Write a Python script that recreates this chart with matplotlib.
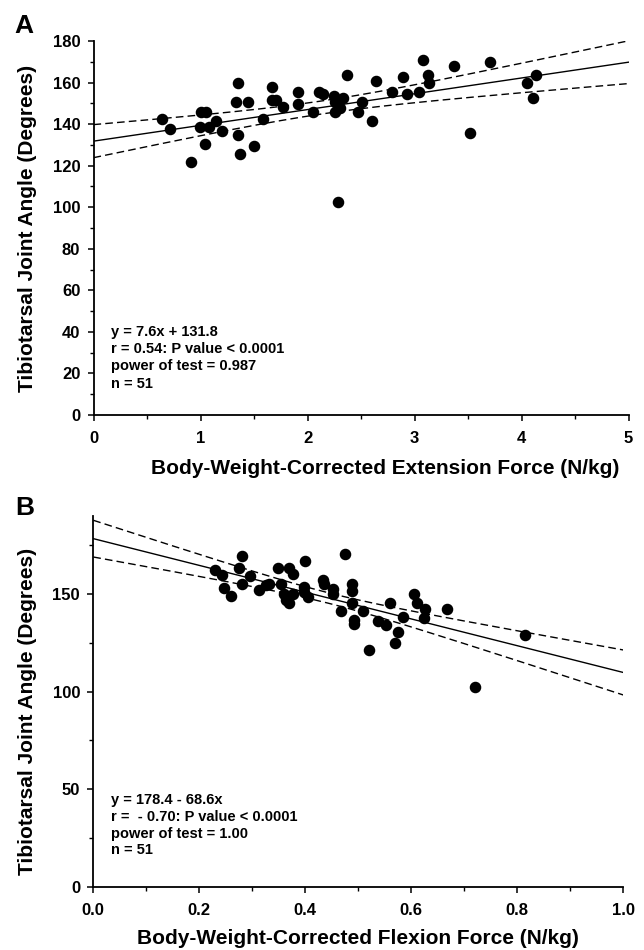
import numpy as np
import matplotlib
matplotlib.use("Agg")
import matplotlib.pyplot as plt
from matplotlib.ticker import MultipleLocator

plt.rcParams['font.family'] = ['Liberation Sans', 'DejaVu Sans']

# ---------------- data: panel A ----------------
ext_force = [0.640, 0.712, 0.911, 1.002, 1.049, 0.998, 1.042, 1.079, 1.142, 1.201,
             1.350, 1.335, 1.447, 1.348, 1.372, 1.497, 1.581, 1.665, 1.668, 1.703,
             1.774, 1.911, 1.911, 2.054, 2.107, 2.142, 2.250, 2.257, 2.335, 2.304,
             2.260, 2.369, 2.288, 2.509, 2.469, 2.603, 2.640, 2.793, 2.890, 2.927,
             3.042, 3.079, 3.123, 3.136, 3.366, 3.519, 3.706, 4.054, 4.138, 4.107]
angle_a = [142.4, 137.5, 121.6, 145.8, 145.8, 138.4, 130.6, 138.4, 141.6, 136.5,
           159.6, 150.5, 150.5, 134.6, 125.5, 129.6, 142.4, 157.7, 151.6, 151.6,
           148.4, 155.6, 149.5, 145.8, 155.6, 154.3, 153.7, 150.5, 152.4, 147.9,
           145.8, 163.6, 102.4, 150.5, 145.8, 141.6, 160.6, 155.6, 162.6, 154.6,
           155.6, 170.7, 163.6, 159.6, 168.0, 135.6, 169.7, 159.6, 163.6, 152.6]
slope_a, intercept_a = 7.6, 131.8
stats_a = ["y = 7.6x + 131.8", "r = 0.54: P value < 0.0001",
           "power of test = 0.987", "n = 51"]

# ---------------- data: panel B ----------------
flex_force = [0.230, 0.243, 0.246, 0.260, 0.281, 0.275, 0.281, 0.296, 0.312, 0.325,
              0.332, 0.349, 0.355, 0.360, 0.370, 0.377, 0.364, 0.369, 0.376, 0.400,
              0.398, 0.397, 0.405, 0.433, 0.435, 0.453, 0.453, 0.467, 0.474, 0.489,
              0.489, 0.488, 0.508, 0.491, 0.492, 0.520, 0.538, 0.552, 0.560, 0.605,
              0.611, 0.626, 0.624, 0.584, 0.575, 0.569, 0.667, 0.815, 0.720]
angle_b = [162.2, 159.6, 153.3, 149.2, 169.3, 163.2, 155.3, 159.4, 152.3, 154.5,
           155.3, 163.2, 155.3, 150.2, 163.5, 160.1, 146.8, 145.4, 150.2, 167.1,
           153.6, 150.9, 148.5, 157.0, 155.3, 152.6, 149.9, 141.3, 170.4, 155.3,
           151.4, 145.6, 141.2, 136.9, 134.9, 121.2, 136.2, 134.2, 145.4, 150.2,
           145.3, 142.2, 137.9, 138.1, 130.3, 124.9, 142.2, 129.0, 102.3]
intercept_b, slope_b = 178.4, -68.6
stats_b = ["y = 178.4 - 68.6x", "r =  - 0.70: P value < 0.0001",
           "power of test = 1.00", "n = 51"]

W, H = 644, 950
fig = plt.figure(figsize=(W / 100, H / 100), dpi=100)


def rect(l, t, r, b):
    return [l / W, 1 - b / H, (r - l) / W, (b - t) / H]


def ci_band(x, y, slope, intercept, xs, t=2.01):
    x = np.asarray(x); y = np.asarray(y)
    n = len(x)
    res = y - (intercept + slope * x)
    s = np.sqrt(np.sum(res ** 2) / (n - 2))
    xm = x.mean()
    sxx = np.sum((x - xm) ** 2)
    hw = t * s * np.sqrt(1 / n + (xs - xm) ** 2 / sxx)
    fit = intercept + slope * xs
    return fit, fit - hw, fit + hw


def style(ax):
    for sp in ['top', 'right']:
        ax.spines[sp].set_visible(False)
    for sp in ['left', 'bottom']:
        ax.spines[sp].set_linewidth(1.3)
    ax.tick_params(which='major', direction='out', length=4.5, width=1.1,
                   labelsize=12, pad=5)
    ax.tick_params(which='minor', direction='out', length=2.8, width=1.0)
    ax.tick_params(axis='x', which='major', pad=7)
    for lab in ax.get_xticklabels() + ax.get_yticklabels():
        lab.set_fontweight('bold')


dash = (0, (5.5, 3.0))
LBL = dict(fontsize=15, fontweight='bold')

# ---------------- panel A ----------------
axA = fig.add_axes(rect(93.5, 41, 628.5, 415))
xsA = np.linspace(0, 5, 200)
fitA, loA, hiA = ci_band(ext_force, angle_a, slope_a, intercept_a, xsA)
axA.plot(xsA, fitA, color='black', lw=1.0)
axA.plot(xsA, loA, color='black', lw=1.0, linestyle=dash)
axA.plot(xsA, hiA, color='black', lw=1.0, linestyle=dash)
axA.plot(ext_force, angle_a, 'o', color='black', ms=7.3, zorder=3)
axA.set_xlim(0, 5)
axA.set_ylim(0, 180)
axA.xaxis.set_major_locator(MultipleLocator(1))
axA.xaxis.set_minor_locator(MultipleLocator(0.5))
axA.yaxis.set_major_locator(MultipleLocator(20))
axA.yaxis.set_minor_locator(MultipleLocator(10))
style(axA)
axA.set_ylabel("Tibiotarsal Joint Angle (Degrees)", va='center', **LBL)
axA.yaxis.set_label_coords(-0.1234, 0.5)
axA.set_xlabel("Body-Weight-Corrected Extension Force (N/kg)", va='baseline', **LBL)
axA.xaxis.set_label_coords(0.545, -0.158)
for i, line in enumerate(stats_a):
    fig.text(111 / W, 1 - (336 + 17.2 * i) / H, line, fontsize=10.5,
             fontweight='bold', va='baseline', ha='left')
fig.text(14 / W, 1 - 33 / H, "A", fontsize=19, fontweight='bold', va='baseline')

# ---------------- panel B ----------------
axB = fig.add_axes(rect(93.3, 516, 623.3, 886.7))
xsB = np.linspace(0, 1, 200)
fitB, loB, hiB = ci_band(flex_force, angle_b, slope_b, intercept_b, xsB)
axB.plot(xsB, fitB, color='black', lw=1.0)
axB.plot(xsB, loB, color='black', lw=1.0, linestyle=dash)
axB.plot(xsB, hiB, color='black', lw=1.0, linestyle=dash)
axB.plot(flex_force, angle_b, 'o', color='black', ms=7.3, zorder=3)
axB.set_xlim(0, 1)
axB.set_ylim(0, 190)
axB.xaxis.set_major_locator(MultipleLocator(0.2))
axB.xaxis.set_minor_locator(MultipleLocator(0.1))
axB.yaxis.set_major_locator(MultipleLocator(50))
axB.yaxis.set_minor_locator(MultipleLocator(25))
axB.xaxis.set_major_formatter(plt.FuncFormatter(lambda v, p: f"{v:.1f}"))
style(axB)
axB.set_ylabel("Tibiotarsal Joint Angle (Degrees)", va='center', **LBL)
axB.yaxis.set_label_coords(-0.1245, 0.472)
axB.set_xlabel("Body-Weight-Corrected Flexion Force (N/kg)", va='baseline', **LBL)
axB.xaxis.set_label_coords(0.5, -0.1546)
for i, line in enumerate(stats_b):
    fig.text(111 / W, 1 - (804 + 16.8 * i) / H, line, fontsize=10.5,
             fontweight='bold', va='baseline', ha='left')
fig.text(15 / W, 1 - 515 / H, "B", fontsize=19, fontweight='bold', va='baseline')

fig.savefig("out.png", dpi=100)
